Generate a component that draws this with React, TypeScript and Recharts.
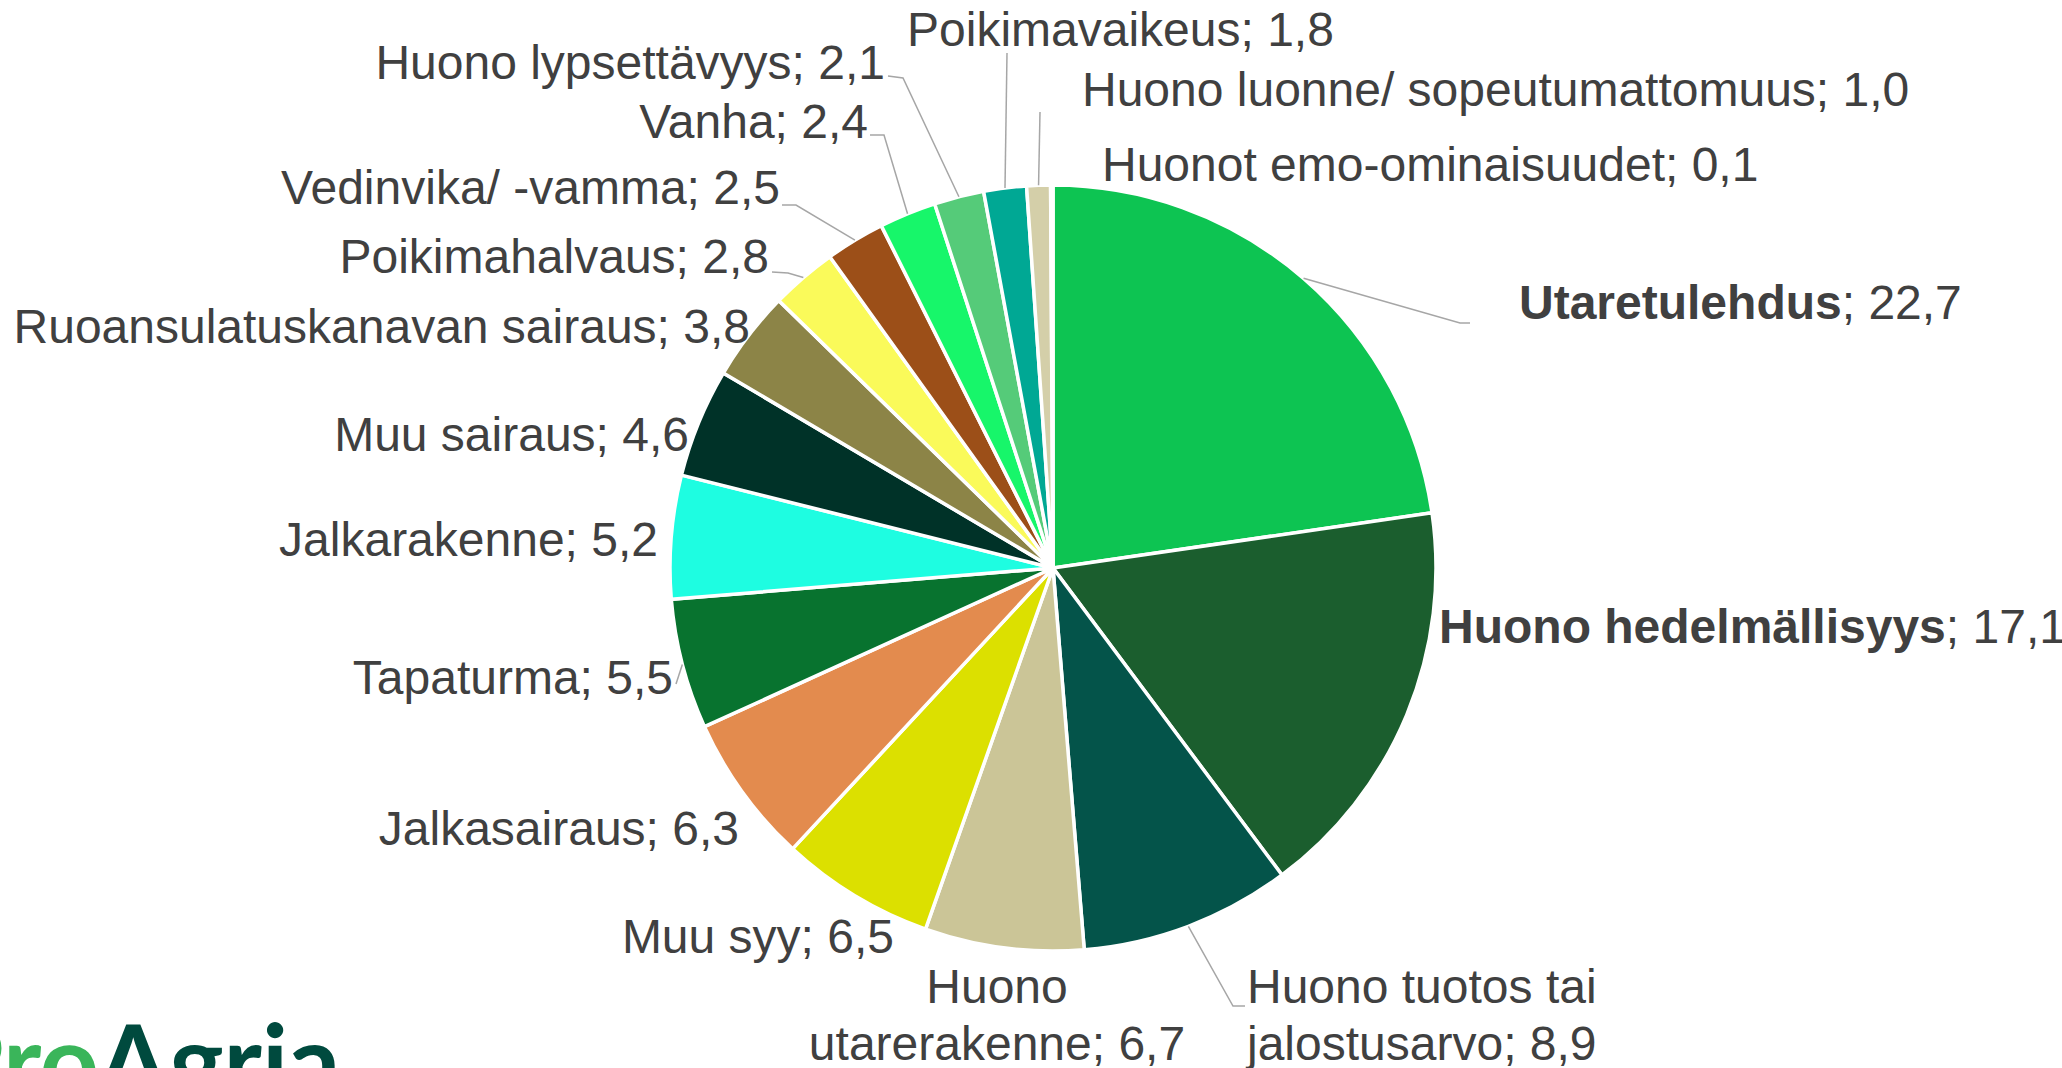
import { PieChart, Pie, Cell } from 'recharts';

const categories = [
  'Utaretulehdus',
  'Huono hedelmällisyys',
  'Huono tuotos tai jalostusarvo',
  'Huono utarerakenne',
  'Muu syy',
  'Jalkasairaus',
  'Tapaturma',
  'Jalkarakenne',
  'Muu sairaus',
  'Ruoansulatuskanavan sairaus',
  'Poikimahalvaus',
  'Vedinvika/ -vamma',
  'Vanha',
  'Huono lypsettävyys',
  'Poikimavaikeus',
  'Huono luonne/ sopeutumattomuus',
  'Huonot emo-ominaisuudet',
];

const shares = [22.7, 17.1, 8.9, 6.7, 6.5, 6.3, 5.5, 5.2, 4.6, 3.8, 2.8, 2.5, 2.4, 2.1, 1.8, 1.0, 0.1];

const boldNames = ['Utaretulehdus', 'Huono hedelmällisyys'];

const colors = [
  '#0DC452', '#1B5E2E', '#04544A', '#CBC597', '#DCE000', '#E38B4E',
  '#08732F', '#1EFDE1', '#003228', '#8C8447', '#FAFA5A', '#9C4F18',
  '#17F66A', '#55CB79', '#00A894', '#D4CFA9', '#E8E4C8',
];

// label placement (text anchor point, vertical centre) - Excel style, hand placed
const labelLayout: { x: number; y: number; anchor: 'start' | 'end' | 'middle'; lines?: string[] }[] = [
  { x: 1519, y: 302, anchor: 'start' },
  { x: 1439, y: 626, anchor: 'start' },
  { x: 1247, y: 986, anchor: 'start', lines: ['Huono tuotos tai', 'jalostusarvo'] },
  { x: 997, y: 986, anchor: 'middle', lines: ['Huono', 'utarerakenne'] },
  { x: 894, y: 936, anchor: 'end' },
  { x: 739, y: 828, anchor: 'end' },
  { x: 673, y: 677, anchor: 'end' },
  { x: 658, y: 539, anchor: 'end' },
  { x: 689, y: 434, anchor: 'end' },
  { x: 750, y: 326, anchor: 'end' },
  { x: 769, y: 256, anchor: 'end' },
  { x: 780, y: 187, anchor: 'end' },
  { x: 868, y: 121, anchor: 'end' },
  { x: 885, y: 62, anchor: 'end' },
  { x: 907, y: 29, anchor: 'start' },
  { x: 1082, y: 89, anchor: 'start' },
  { x: 1102, y: 164, anchor: 'start' },
];

// leader line points near the label; the last point is taken from the slice
const leaders: (number[][] | null)[] = [
  [[1470, 323], [1460, 323]],
  null,
  [[1245, 1006], [1233, 1006]],
  null,
  null,
  null,
  [[676, 684]],
  null,
  null,
  null,
  [[772, 272], [788, 273]],
  [[782, 205], [796, 205]],
  [[870, 135], [884, 135]],
  [[888, 76], [903, 78]],
  [[1007, 53]],
  [[1040, 112]],
  null,
];

const data = categories.map((name, i) => ({ name, value: shares[i] }));

const RAD = Math.PI / 180;
const FONT = 48;
const TEXT = '#404040';

const fmt = (v: number) => v.toFixed(1).replace('.', ',');

const renderLabel = (props: any) => {
  const { cx, cy, midAngle, outerRadius, index } = props;
  const lay = labelLayout[index];
  const name = categories[index];
  const value = fmt(shares[index]);
  const bold = boldNames.includes(name);
  const px = cx + outerRadius * Math.cos(-midAngle * RAD);
  const py = cy + outerRadius * Math.sin(-midAngle * RAD);
  const lead = leaders[index];
  const pts = lead ? [...lead, [px, py]] : null;

  return (
    <g key={`lbl-${index}`}>
      {pts && (
        <polyline
          points={pts.map(p => p.join(',')).join(' ')}
          fill="none"
          stroke="#A6A6A6"
          strokeWidth={1.5}
        />
      )}
      {lay.lines ? (
        <text x={lay.x} y={lay.y} textAnchor={lay.anchor} fill={TEXT} fontSize={FONT} dy="0.35em">
          <tspan x={lay.x}>{lay.lines[0]}</tspan>
          <tspan x={lay.x} dy={57}>{`${lay.lines[1]}; ${value}`}</tspan>
        </text>
      ) : (
        <text x={lay.x} y={lay.y} textAnchor={lay.anchor} fill={TEXT} fontSize={FONT} dy="0.35em">
          <tspan fontWeight={bold ? 'bold' : 'normal'}>{name}</tspan>
          <tspan>{`; ${value}`}</tspan>
        </text>
      )}
    </g>
  );
};

export default function App() {
  return (
    <div style={{ position: 'absolute', left: 0, top: 0, width: 2062, height: 1068, background: '#fff', overflow: 'hidden', fontFamily: 'Liberation Sans, Arial, sans-serif' }}>
      <PieChart width={2062} height={1068} margin={{ top: 0, right: 0, bottom: 0, left: 0 }}>
        <Pie
          data={data}
          dataKey="value"
          nameKey="name"
          cx={1053}
          cy={568}
          outerRadius={383}
          startAngle={90}
          endAngle={-270}
          stroke="#fff"
          strokeWidth={3.5}
          label={renderLabel}
          labelLine={false}
          isAnimationActive={false}
        >
          {data.map((d, i) => (
            <Cell key={d.name} fill={colors[i]} />
          ))}
        </Pie>
      </PieChart>
      <svg width={420} height={50} style={{ position: 'absolute', left: 0, top: 1018 }}>
        <text x={-60} y={81} fontSize={103} fontWeight="bold" fontFamily="Lato, Liberation Sans, sans-serif">
          <tspan fill="#3AB55A">Pro</tspan>
          <tspan fill="#004A3E">Agria</tspan>
        </text>
      </svg>
    </div>
  );
}
